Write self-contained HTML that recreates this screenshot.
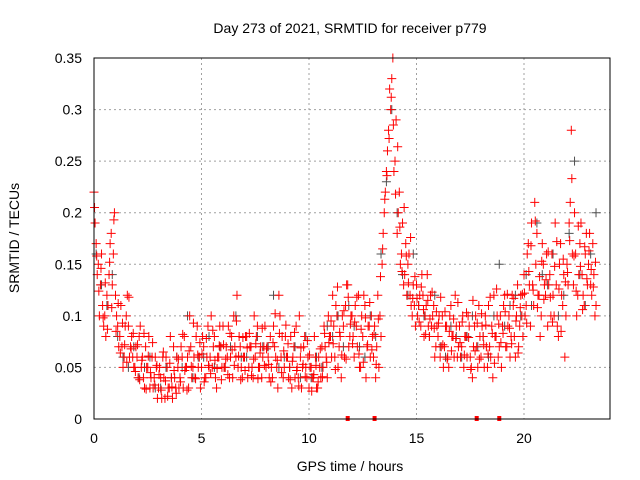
<!DOCTYPE html>
<html><head><meta charset="utf-8"><style>
body{margin:0;background:#fff;}
svg{display:block;font-family:"Liberation Sans",sans-serif;}
</style></head><body>
<svg id="chart" width="640" height="480">
<text x="350" y="33" text-anchor="middle" font-size="14">Day 273 of 2021, SRMTID for receiver p779</text>
<g id="grid"></g>
<g id="pts"></g>
<rect x="94" y="58" width="516" height="361" fill="none" stroke="#000" stroke-width="1"/>
<g id="ticks" font-size="14"></g>
<text x="350" y="471" text-anchor="middle" font-size="14">GPS time / hours</text>
<text transform="translate(19,238) rotate(-90)" text-anchor="middle" font-size="14">SRMTID / TECUs</text>
</svg>
<script>
const xTicks=[0,5,10,15,20];
const yTicks=[0,0.05,0.1,0.15,0.2,0.25,0.3,0.35];
const yTickLabels=["0","0.05","0.1","0.15","0.2","0.25","0.3","0.35"];
const redA=[.22,.17,.15,.13,.11,.10,.12,.14,.18,.16,
.12,.09,.08,.07,.06,.10,.09,.07,.06,.05,
.06,.08,.05,.04,.07,.05,.03,.06,.04,.05,
.03,.04,.06,.02,.05,.03,.04,.07,.03,.05,
.04,.06,.08,.05,.03,.07,.05,.04,.09,.06,
.05,.07,.04,.09,.06,.05,.08,.03,.06,.07,
.09,.05,.06,.04,.08,.10,.06,.05,.07,.04,
.06,.08,.05,.07,.04,.06,.09,.05,.04,.07,
.05,.06,.08,.04,.07,.05,.12,.06,.04,.08,
.06,.05,.03,.07,.09,.04,.06,.05,.08,.04,
.03,.05,.04,.06,.03,.05,.07,.09,.06,.10,
.08,.12,.06,.10,.07,.04,.09,.11,.13,.08,
.10,.06,.09,.12,.05,.08,.11,.07,.09,.10,
.06,.04,.12,.10,.15,.20,.24,.28,.30,.35,
.25,.18,.22,.16,.13,.17,.15,.12,.10,.11,
.13,.11,.09,.12,.10,.14,.08,.09,.11,.07,
.08,.06,.10,.07,.09,.05,.11,.08,.12,.06,
.09,.07,.05,.08,.10,.06,.04,.09,.07,.11,
.06,.08,.10,.05,.07,.09,.12,.08,.06,.10,
.09,.12,.07,.10,.08,.11,.06,.13,.09,.10,
.14,.11,.17,.09,.13,.21,.18,.12,.10,.15,
.12,.09,.14,.16,.10,.13,.08,.17,.11,.06,
.15,.19,.28,.13,.16,.12,.17,.14,.11,.18,
.15,.13,.17,.10];
const redB=[.19,.14,.10,.16,.09,.08,.11,.17,.13,.20,
.10,.07,.11,.05,.09,.12,.06,.08,.05,.07,
.04,.09,.06,.03,.05,.08,.04,.03,.06,.02,
.05,.02,.04,.06,.03,.08,.02,.04,.06,.03,
.07,.03,.05,.06,.10,.04,.06,.08,.05,.03,
.08,.04,.06,.05,.10,.07,.04,.06,.09,.05,
.05,.07,.09,.06,.04,.07,.12,.08,.05,.06,
.08,.04,.07,.05,.10,.08,.05,.07,.06,.09,
.07,.04,.05,.09,.06,.03,.10,.08,.05,.06,
.04,.08,.06,.04,.05,.10,.03,.07,.05,.06,
.05,.04,.08,.03,.06,.04,.05,.07,.04,.08,
.06,.09,.11,.05,.08,.10,.06,.13,.07,.10,
.08,.11,.07,.05,.10,.12,.04,.09,.06,.08,
.09,.07,.05,.08,.18,.22,.26,.32,.33,.24,
.29,.20,.15,.19,.14,.12,.16,.11,.13,.09,
.10,.12,.14,.08,.11,.09,.12,.10,.06,.09,
.10,.07,.05,.09,.06,.10,.08,.06,.09,.07,
.06,.10,.08,.06,.09,.05,.07,.10,.05,.08,
.09,.05,.07,.11,.06,.04,.08,.10,.07,.05,
.11,.07,.09,.06,.12,.08,.10,.07,.12,.08,
.10,.16,.13,.19,.11,.15,.12,.08,.17,.13,
.16,.13,.10,.12,.19,.09,.15,.12,.14,.10,
.13,.21,.16,.20,.10,.14,.19,.12,.16,.13,
.18,.12,.14,.11];
const redC=[.205,.158,.124,.146,.098,.132,.087,.152,.108,.193,
.085,.112,.064,.093,.072,.055,.118,.068,.083,.046,
.072,.038,.057,.083,.029,.061,.045,.074,.033,.052,
.043,.028,.065,.037,.022,.054,.031,.047,.025,.058,
.036,.082,.047,.028,.066,.051,.093,.039,.062,.074,
.063,.036,.078,.052,.044,.086,.057,.049,.071,.038,
.072,.058,.043,.083,.067,.052,.095,.061,.038,.079,
.047,.069,.083,.042,.058,.073,.039,.064,.088,.052,
.068,.053,.036,.074,.102,.057,.083,.045,.066,.091,
.073,.038,.056,.084,.047,.032,.069,.053,.041,.076,
.062,.027,.043,.052,.036,.068,.041,.083,.055,.074,
.095,.073,.048,.128,.084,.062,.105,.058,.118,.092,
.073,.094,.118,.063,.087,.055,.098,.072,.113,.067,
.082,.053,.097,.138,.165,.213,.236,.272,.312,.285,
.218,.264,.186,.143,.205,.158,.132,.176,.117,.138,
.117,.094,.128,.106,.082,.115,.097,.123,.088,.104,
.093,.118,.072,.104,.058,.085,.066,.097,.078,.113,
.074,.094,.062,.103,.079,.048,.115,.066,.093,.058,
.102,.072,.091,.063,.118,.083,.054,.126,.092,.074,
.083,.104,.121,.088,.073,.117,.095,.064,.108,.121,
.122,.093,.143,.168,.125,.192,.108,.138,.153,.116,
.135,.162,.118,.094,.148,.172,.126,.085,.155,.133,
.142,.173,.233,.158,.124,.187,.148,.106,.167,.136,
.163,.145,.128,.152];
const grayS=[.16,.13,.11,.14,.08,.06,.05,.07,.04,.05,.06,.03,.03,.05,.04,.06,
.05,.10,.04,.06,.06,.08,.05,.07,.05,.07,.10,.06,.06,.05,.08,.07,
.07,.12,.05,.06,.05,.07,.04,.08,.04,.06,.05,.09,.08,.10,.07,.11,
.09,.07,.06,.10,.08,.16,.23,.30,.20,.14,.12,.16,.11,.10,.08,.12,
.07,.06,.09,.08,.06,.08,.10,.07,.08,.06,.10,.15,.09,.11,.12,.10,
.14,.11,.19,.14,.13,.16,.10,.12,.18,.25,.14,.11,.16,.20];
const zeroMarks=[11.8,13.05,17.8,18.85];
const X=t=>94+t*(516/24);
const Y=v=>419-v*(361/0.35);
const NS="http://www.w3.org/2000/svg";
const grid=document.getElementById('grid'),pts=document.getElementById('pts'),tk=document.getElementById('ticks');
xTicks.forEach(t=>{
  if(t>0){const l=document.createElementNS(NS,'line');
  
  
  l.setAttribute('x1',X(t));l.setAttribute('x2',X(t));l.setAttribute('y1',58);l.setAttribute('y2',419);
  l.setAttribute('stroke','#a0a0a0');l.setAttribute('stroke-dasharray','2,3');grid.appendChild(l);}
  const s=document.createElementNS(NS,'text');
  
  
  s.setAttribute('x',X(t));s.setAttribute('y',443);s.setAttribute('text-anchor','middle');s.textContent=t;tk.appendChild(s);
});
yTicks.forEach((v,i)=>{
  if(v>0&&v<0.35){const l=document.createElementNS(NS,'line');
  
  
  l.setAttribute('x1',94);l.setAttribute('x2',610);l.setAttribute('y1',Y(v));l.setAttribute('y2',Y(v));
  l.setAttribute('stroke','#a0a0a0');l.setAttribute('stroke-dasharray','2,3');grid.appendChild(l);}
  const s=document.createElementNS(NS,'text');
  
  
  s.setAttribute('x',82);s.setAttribute('y',Y(v)+5);s.setAttribute('text-anchor','end');s.textContent=yTickLabels[i];tk.appendChild(s);
});
function plus(t,v,c){
  const x=X(t),y=Y(v);
  const p=document.createElementNS(NS,'path');
  
  
  p.setAttribute('d',`M${x-4.5} ${y}H${x+4.5}M${x} ${y-4.5}V${y+4.5}`);
  p.setAttribute('stroke',c);p.setAttribute('stroke-width','1');pts.appendChild(p);
}
grayS.forEach((v,i)=>plus(i*0.25+0.1,v,'#505050'));
redA.forEach((v,i)=>plus(i*0.1,v,'#ff0000'));
redB.forEach((v,i)=>plus(i*0.1+0.05,v,'#ff0000'));
redC.forEach((v,i)=>plus(i*0.1+0.025,v,'#ff0000'));
zeroMarks.forEach(t=>{
  const r=document.createElementNS(NS,'rect');
  
  
  r.setAttribute('x',X(t)-2);r.setAttribute('y',416);r.setAttribute('width',4);r.setAttribute('height',5);r.setAttribute('fill','#ff0000');pts.appendChild(r);
});
</script>
</body></html>
